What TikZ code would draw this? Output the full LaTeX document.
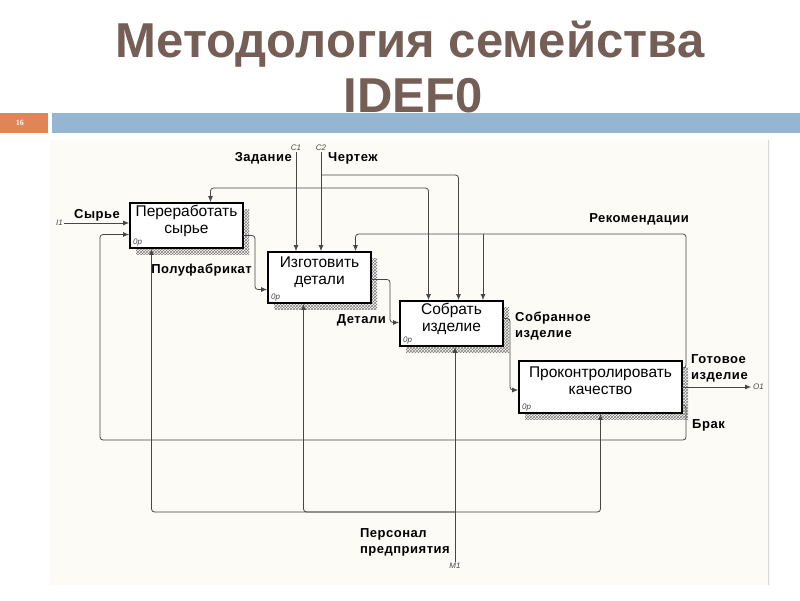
\documentclass[tikz,border=0pt]{standalone}
\usepackage{fontspec}
\setmainfont{Liberation Sans}
\newfontfamily\labelfont[LetterSpace=4]{Liberation Sans}
\newfontfamily\numfont{Liberation Serif}
\usepackage{tikz}
\usetikzlibrary{arrows.meta, positioning, calc, shadows, patterns}

\definecolor{titlegray}{RGB}{116,94,86}
\definecolor{barorange}{RGB}{224,133,88}
\definecolor{barblue}{RGB}{148,182,210}
\definecolor{sheet}{RGB}{253,251,246}
\definecolor{wire}{RGB}{70,70,70}

\begin{document}
\begin{tikzpicture}[x=1pt, y=-1pt,
    func/.style={rectangle, draw, line width=1.8pt, fill=white, align=center, inner sep=0pt, outer sep=0pt,
        font=\fontsize{15.5}{17}\selectfont, text depth=13pt,
        general shadow={shadow xshift=6pt, shadow yshift=-6pt, pattern=crosshatch, pattern color=black!50},
        label={[tag, anchor=south west, xshift=2pt, yshift=1pt]south west:0р}},
    line/.style={draw=wire, line width=0.8pt, -{Latex[length=6pt, width=5pt]}, shorten >=0.9pt, rounded corners=3pt},
    lbl/.style={font=\labelfont\bfseries\fontsize{13}{16}\selectfont, align=left, inner sep=1pt},
    tag/.style={font=\itshape\fontsize{8}{9}\selectfont, text=wire, inner sep=1pt},
    heading/.style={font=\bfseries\fontsize{49}{50}\selectfont, text=titlegray, anchor=base}
]
\useasboundingbox (0,0) rectangle (800,600);

% Slide head
\node[heading] (title) at (410,57) {Методология семейства};
\node[heading] (title2) at (413,112) {IDEF0};
\fill[barorange] (0,113) rectangle (48,133);
\fill[barblue] (52,113) rectangle (800,133);
\node[font=\numfont\bfseries\fontsize{8}{9}\selectfont, text=white] (pgnum) at (20,123) {16};

% Sheet
\fill[sheet] (50,140) rectangle (770,585);
\draw[gray!30] (768,140) -- (768,585);

% Functions
\node [func, minimum width=113pt, minimum height=45pt, anchor=north west] (a1) at (130,203) {Переработать\\сырье};
\node [func, minimum width=103pt, minimum height=51pt, below right=4pt and 25pt of a1] (a2) {Изготовить\\детали};
\node [func, minimum width=103pt, minimum height=45pt, below right=-2pt and 29pt of a2] (a3) {Собрать\\изделие};
\node [func, minimum width=163pt, minimum height=52pt, below right=15pt and 16pt of a3] (a4) {Проконтролировать\\качество};

% Input
\coordinate (i1) at (64,223);
\draw [line] (i1) -- node[lbl, above] (lsyr) {Сырье} (i1 -| a1.west);
\node [tag, left] (ti1) at (i1) {I1};

% Controls
\coordinate (c1) at (296,152);
\coordinate (c2) at (321,152);
\coordinate (j1) at (296,188);
\coordinate (j2) at (321,175);
\draw [line] (c1) -- (c1 |- a2.north);
\draw [line] (j1) -| ([xshift=24pt]a1.north);
\draw [line] (j1) -| ([xshift=-23pt]a3.north);
\draw [line] (c2) -- (c2 |- a2.north);
\draw [line] (j2) -| ([xshift=7pt]a3.north);
\node [tag, above] (tc1) at (c1) {C1};
\node [tag, above] (tc2) at (c2) {C2};
\node [lbl, anchor=east] (lzad) at (293,158) {Задание};
\node [lbl, anchor=west] (lcht) at (327,158) {Чертеж};

% Feedback
\coordinate (r1) at (686,234);
\coordinate (r2) at (483,234);
\draw [line] ([yshift=19pt]a4.east) -| (r1) -| ([xshift=36pt]a2.north);
\draw [line] (r2) -- (r2 |- a3.north);
\node [lbl, anchor=base east] (lrek) at (690,222) {Рекомендации};
\coordinate (b1) at (686,440);
\coordinate (b2) at (100,440);
\draw [line] ([yshift=-18pt]a4.east) -| (b1) -- (b2) |- ([yshift=-9pt]a1.west);
\node [lbl, anchor=west] (lbrak) at (691,425) {Брак};

% Outputs
\draw [line] ([yshift=-10pt]a1.east) -- ++(12,0) |- ([yshift=-12pt]a2.west);
\node [lbl, anchor=east] (lpf) at (253,270) {Полуфабрикат};
\draw [line] ([yshift=-2pt]a2.east) -- ++(19,0) |- ([yshift=1pt]a3.west);
\node [lbl, anchor=east] (ldet) at (387,320) {Детали};
\draw [line] ([yshift=5pt]a3.east) -- ++(7,0) |- ([yshift=-3pt]a4.west);
\node [lbl, anchor=north west] (lsob) at (514,311) {Собранное\\изделие};
\coordinate (o1) at (752,388);
\draw [line] (a4.east) -- (a4.east -| o1);
\node [tag, right] (to1) at (a4.east -| o1) {O1};
\node [lbl, anchor=south west] (lgot) at (690,383) {Готовое\\изделие};

% Mechanism
\coordinate (m1) at (455,562);
\coordinate (mj) at (455,512);
\draw [line] (m1) -- (m1 |- a3.south);
\draw [line] (mj) -| ([xshift=-35pt]a1.south);
\draw [line] (mj) -| ([xshift=-16pt]a2.south);
\draw [line] (mj) -| (a4.south);
\node [tag, below] (tm1) at (m1) {M1};
\node [lbl, anchor=east] (lpers) at (451,542) {Персонал\\предприятия};

\end{tikzpicture}
\end{document}
